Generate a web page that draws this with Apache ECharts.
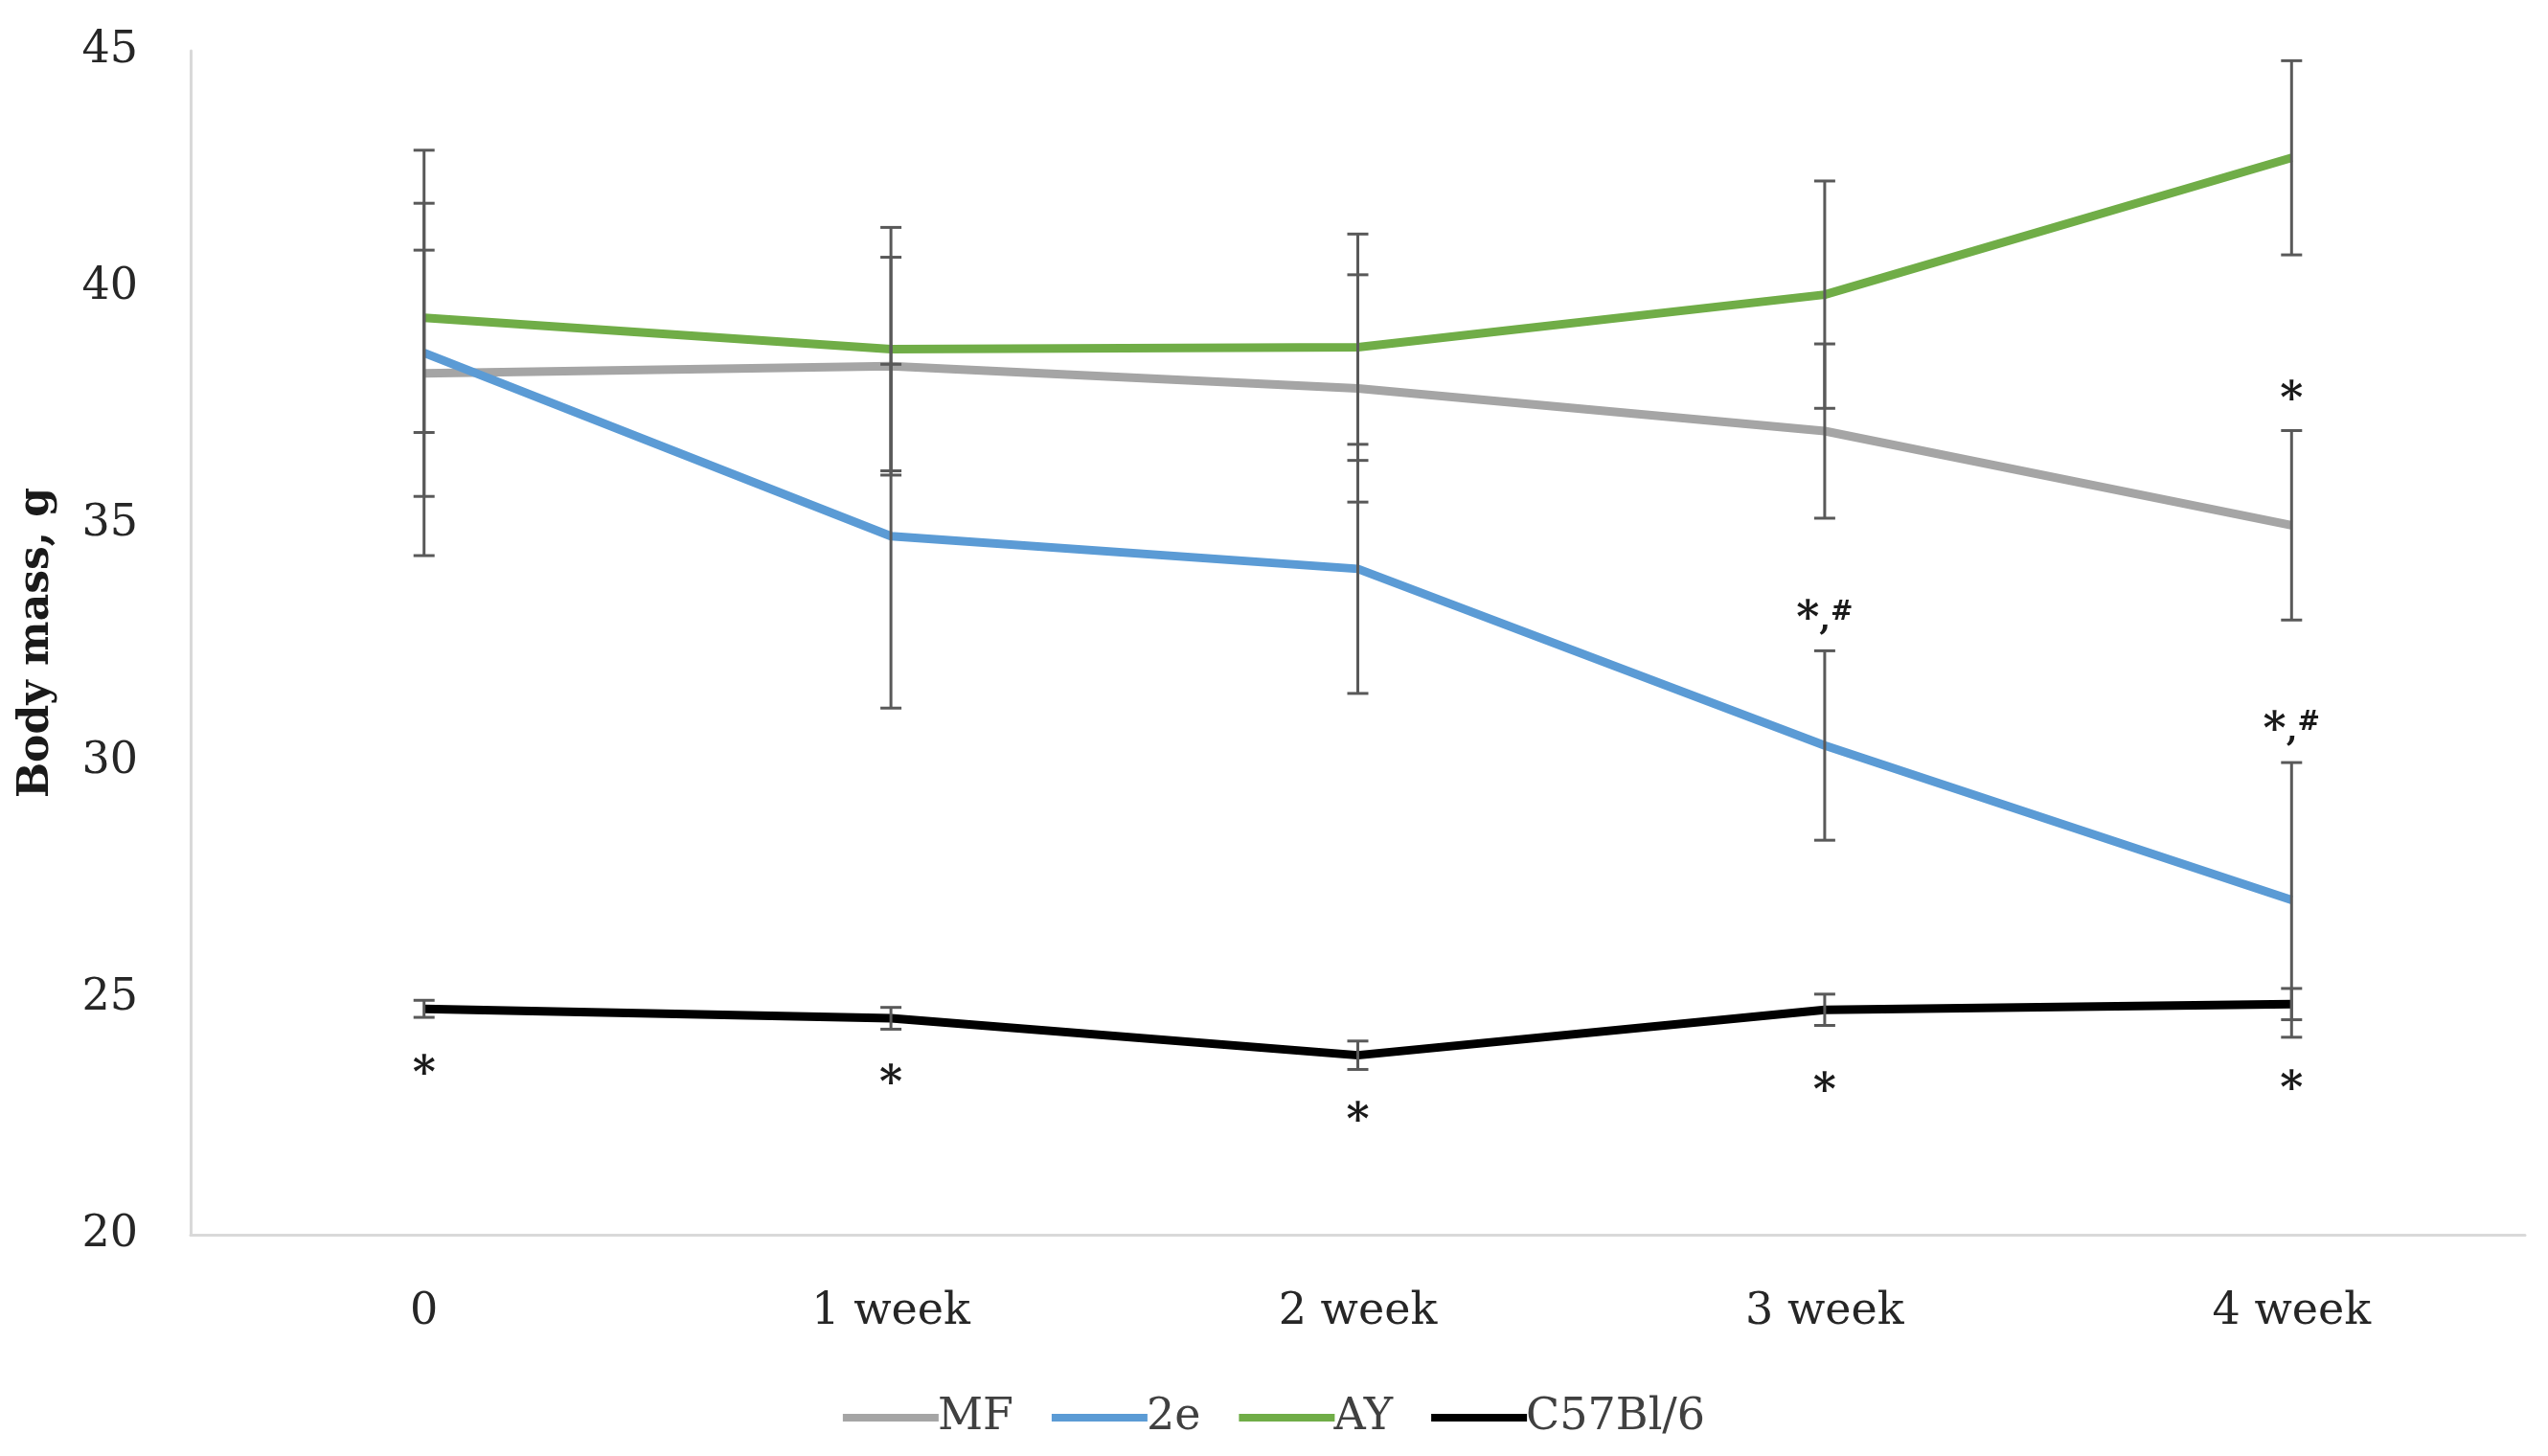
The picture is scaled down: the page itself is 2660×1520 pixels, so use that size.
<!DOCTYPE html>
<html>
<head>
<meta charset="utf-8">
<script src="https://cdn.jsdelivr.net/npm/echarts@6/dist/echarts.min.js"></script>
<style>
  html, body { margin: 0; padding: 0; background: #fff; }
  #chart { width: 2660px; height: 1520px; }
</style>
</head>
<body>
<div id="chart"></div>
<script>
// weeks on the x axis
const weeks = ['0', '1 week', '2 week', '3 week', '4 week'];

// group means (g)
const mfMean  = [38.19, 38.34, 37.87, 36.97, 34.98];
const e2Mean  = [38.62, 34.75, 34.06, 30.33, 27.07];
const ayMean  = [39.36, 38.70, 38.74, 39.85, 42.74];
const c57Mean = [24.77, 24.57, 23.79, 24.75, 24.87];

// error bar half-widths
const mfErr  = [2.60, 2.30, 2.40, 1.84, 2.00];
const e2Err  = [4.28, 3.63, 2.63, 2.00, 2.90];
const ayErr  = [2.42, 2.57, 2.39, 2.40, 2.05];
const c57Err = [0.18, 0.23, 0.30, 0.33, 0.33];

// significance marks: category index, y value, text
const markCat  = [0, 1, 2, 3, 4, 4, 3, 4];
const markY    = [23.6, 23.4, 22.6, 23.24, 23.28, 37.83, 33.2, 30.86];
const markText = ['*', '*', '*', '*', '*', '*', '*,#', '*,#'];

const FONT = 'DejaVu Serif';
const chart = echarts.init(document.getElementById('chart'));

function lineSeries(name, data, color) {
  return {
    name: name,
    type: 'line',
    data: data,
    symbol: 'none',
    z: 3,
    lineStyle: { color: color, width: 9 },
    itemStyle: { color: color },
    emphasis: { disabled: true }
  };
}

function errSeries(mean, err) {
  return {
    type: 'custom',
    z: 5,
    silent: true,
    data: mean.map((m, i) => [i, m, err[i]]),
    encode: { x: 0, y: 1 },
    renderItem: function (params, api) {
      const i = api.value(0), m = api.value(1), e = api.value(2);
      const hi = api.coord([i, m + e]);
      const lo = api.coord([i, m - e]);
      const w = 11;
      const st = { stroke: '#595959', lineWidth: 3 };
      return {
        type: 'group',
        children: [
          { type: 'line', shape: { x1: hi[0], y1: hi[1], x2: lo[0], y2: lo[1] }, style: st },
          { type: 'line', shape: { x1: hi[0] - w, y1: hi[1], x2: hi[0] + w, y2: hi[1] }, style: st },
          { type: 'line', shape: { x1: lo[0] - w, y1: lo[1], x2: lo[0] + w, y2: lo[1] }, style: st }
        ]
      };
    }
  };
}

const marksSeries = {
  type: 'custom',
  z: 6,
  silent: true,
  data: markCat.map((c, i) => [c, markY[i]]),
  encode: { x: 0, y: 1 },
  renderItem: function (params, api) {
    const p = api.coord([api.value(0), api.value(1)]);
    const t = markText[params.dataIndex];
    const txt = t === '*' ? '{a|*}' : '{a|*}{c|,}{b|#}';
    return {
      type: 'text',
      x: p[0],
      y: p[1] + 12,
      style: {
        text: txt,
        align: 'center',
        verticalAlign: 'middle',
        rich: {
          a: { fontFamily: FONT, fontSize: 46, fill: '#1a1a1a', fontWeight: 'bold' },
          c: { fontFamily: FONT, fontSize: 34, fill: '#1a1a1a', fontWeight: 'bold' },
          b: { fontFamily: FONT, fontSize: 28, fill: '#1a1a1a', fontWeight: 'bold', verticalAlign: 'top' }
        }
      }
    };
  }
};

const option = {
  backgroundColor: '#ffffff',
  animation: false,
  grid: { left: 199, right: 24, top: 53, bottom: 231 },
  legend: {
    bottom: 12,
    left: 'center',
    icon: 'rect',
    itemWidth: 100,
    itemHeight: 8,
    itemGap: 40,
    data: ['MF', '2e', 'AY', 'C57Bl/6'],
    textStyle: { fontFamily: FONT, fontSize: 46, color: '#404040', padding: [0, 0, 0, -6] }
  },
  xAxis: {
    type: 'category',
    data: weeks,
    boundaryGap: true,
    axisLine: { lineStyle: { color: '#d9d9d9', width: 3 } },
    axisTick: { show: false },
    axisLabel: { fontFamily: FONT, fontSize: 46, color: '#262626', margin: 58 }
  },
  yAxis: {
    type: 'value',
    min: 20,
    max: 45,
    interval: 5,
    name: 'Body mass, g',
    nameLocation: 'middle',
    nameGap: 138,
    nameTextStyle: { fontFamily: FONT, fontSize: 44, fontWeight: 'bold', color: '#1a1a1a' },
    axisLine: { show: true, lineStyle: { color: '#d9d9d9', width: 3 } },
    axisTick: { show: false },
    splitLine: { show: false },
    axisLabel: { fontFamily: FONT, fontSize: 46, color: '#262626', margin: 55 }
  },
  series: [
    lineSeries('MF', mfMean, '#a5a5a5'),
    lineSeries('2e', e2Mean, '#5b9bd5'),
    lineSeries('AY', ayMean, '#70ad47'),
    lineSeries('C57Bl/6', c57Mean, '#000000'),
    errSeries(mfMean, mfErr),
    errSeries(e2Mean, e2Err),
    errSeries(ayMean, ayErr),
    errSeries(c57Mean, c57Err),
    marksSeries
  ]
};

chart.setOption(option);
</script>
</body>
</html>
